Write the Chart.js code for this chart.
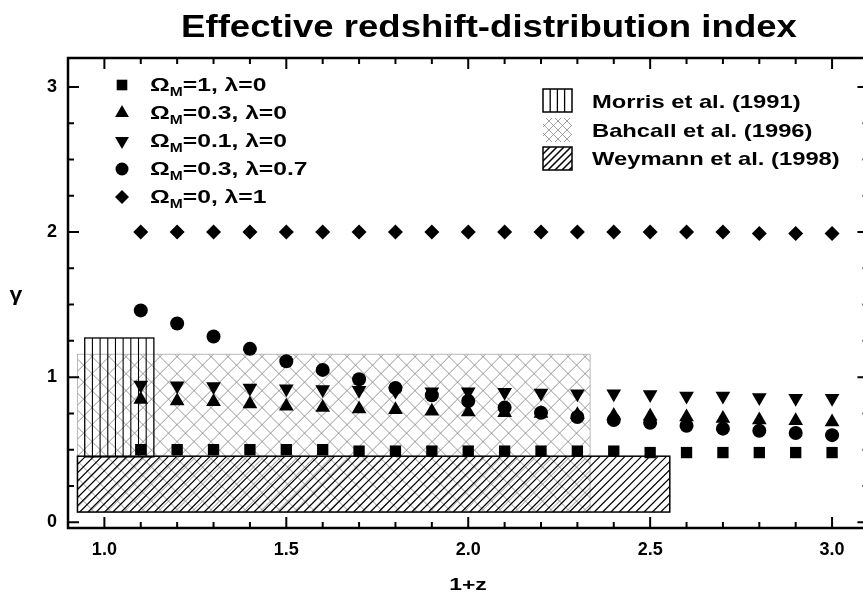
<!DOCTYPE html>
<html>
<head>
<meta charset="utf-8">
<script src="https://cdn.jsdelivr.net/npm/chart.js@4.4.0/dist/chart.umd.min.js"></script>
<style>
  html, body { margin: 0; padding: 0; background: #fff; overflow: hidden; }
  #wrap { width: 863px; height: 596px; overflow: hidden; }
  canvas { display: block; }
</style>
</head>
<body>
<div id="wrap"><canvas id="gammaChart" width="863" height="596"></canvas></div>
<script>
// 1+z sample points
var zValues = [1.1, 1.2, 1.3, 1.4, 1.5, 1.6, 1.7, 1.8, 1.9, 2.0,
               2.1, 2.2, 2.3, 2.4, 2.5, 2.6, 2.7, 2.8, 2.9, 3.0];

// gamma per cosmology
var gammaM1 = [0.50, 0.50, 0.50, 0.50, 0.50, 0.50, 0.49, 0.49, 0.49, 0.49,
               0.49, 0.49, 0.49, 0.49, 0.48, 0.48, 0.48, 0.48, 0.48, 0.48];
var gammaM03 = [0.845, 0.835, 0.83, 0.815, 0.80, 0.79, 0.78, 0.775, 0.765, 0.76,
                0.755, 0.75, 0.74, 0.735, 0.73, 0.725, 0.715, 0.705, 0.70, 0.69];
var gammaM01 = [0.945, 0.94, 0.935, 0.925, 0.92, 0.915, 0.91, 0.905, 0.90, 0.90,
                0.895, 0.89, 0.885, 0.885, 0.88, 0.87, 0.87, 0.86, 0.855, 0.855];
var gammaM03L07 = [1.46, 1.37, 1.28, 1.195, 1.11, 1.05, 0.985, 0.925, 0.875, 0.835,
                   0.79, 0.755, 0.725, 0.705, 0.685, 0.665, 0.645, 0.63, 0.615, 0.60];
var gammaM0L1 = [2.0, 2.0, 2.0, 2.0, 2.0, 2.0, 2.0, 2.0, 2.0, 2.0,
                 2.0, 2.0, 2.0, 2.0, 2.0, 2.0, 2.0, 1.99, 1.99, 1.99];

var seriesText = ['=1, \u03bb=0', '=0.3, \u03bb=0', '=0.1, \u03bb=0', '=0.3, \u03bb=0.7', '=0, \u03bb=1'];

// survey boxes: [z from, z to], [gamma from, gamma to]
var surveyNames = ['Morris et al. (1991)', 'Bahcall et al. (1996)', 'Weymann et al. (1998)'];
var surveyZ = [[0.946, 1.136], [0.926, 2.335], [0.926, 2.554]];
var surveyGamma = [[0.45, 1.27], [0.07, 1.158], [0.07, 0.455]];

var xTicks = [1.0, 1.5, 2.0, 2.5, 3.0];
var yTicks = [0, 1, 2, 3];

function pts(arr) {
  return zValues.map(function(z, i) { return { x: z, y: arr[i] }; });
}

var FONT = '"Liberation Sans", Arial, Helvetica, sans-serif';

function txt(ctx, s, x, y, size, weight, align, sx) {
  ctx.save();
  ctx.font = weight + ' ' + size + 'px ' + FONT;
  ctx.textBaseline = 'alphabetic';
  ctx.textAlign = 'left';
  var w = ctx.measureText(s).width * sx;
  var x0 = align === 'center' ? x - w / 2 : (align === 'right' ? x - w : x);
  ctx.translate(x0, y);
  ctx.scale(sx, 1);
  ctx.fillStyle = '#000';
  ctx.fillText(s, 0, 0);
  ctx.restore();
  return w;
}

function hatch(ctx, b, step, dirs, color, lw) {
  ctx.save();
  ctx.beginPath();
  ctx.rect(b.l, b.t, b.r - b.l, b.b - b.t);
  ctx.clip();
  ctx.strokeStyle = color;
  ctx.lineWidth = lw;
  ctx.beginPath();
  var h = b.b - b.t, a;
  dirs.forEach(function(d) {
    if (d === 'v') {
      for (a = b.l + step; a < b.r - 1; a += step) { ctx.moveTo(a, b.t); ctx.lineTo(a, b.b); }
    } else if (d === '/') {
      for (a = b.l - h; a < b.r; a += step) { ctx.moveTo(a, b.b); ctx.lineTo(a + h, b.t); }
    } else {
      for (a = b.l - h; a < b.r; a += step) { ctx.moveTo(a, b.t); ctx.lineTo(a + h, b.b); }
    }
  });
  ctx.stroke();
  ctx.restore();
}

function frameBox(ctx, b, color, lw) {
  ctx.save();
  ctx.strokeStyle = color;
  ctx.lineWidth = lw;
  ctx.strokeRect(b.l, b.t, b.r - b.l, b.b - b.t);
  ctx.restore();
}

var markers = [
  { style: 'rect', radius: 8, rotation: 0 },
  { style: 'triangle', radius: 8.5, rotation: 0 },
  { style: 'triangle', radius: 8.5, rotation: 180 },
  { style: 'circle', radius: 7, rotation: 0 },
  { style: 'rectRot', radius: 7.5, rotation: 0 }
];

var drawPlugin = {
  id: 'gammaDecor',
  beforeDatasetsDraw: function(chart) {
    var ctx = chart.ctx, xs = chart.scales.x, ys = chart.scales.y;
    var boxes = surveyZ.map(function(zr, i) {
      return { l: xs.getPixelForValue(zr[0]), r: xs.getPixelForValue(zr[1]),
               t: ys.getPixelForValue(surveyGamma[i][1]), b: ys.getPixelForValue(surveyGamma[i][0]) };
    });
    // Bahcall: grey crosshatch
    hatch(ctx, boxes[1], 17, ['/', '\\'], '#858585', 0.85);
    frameBox(ctx, boxes[1], '#a8a8a8', 0.8);
    // Weymann: diagonal lines
    hatch(ctx, boxes[2], 8.3, ['/'], '#000', 1.2);
    frameBox(ctx, boxes[2], '#000', 1.5);
    // Morris: vertical lines
    hatch(ctx, boxes[0], (boxes[0].r - boxes[0].l) / 9, ['v'], '#000', 1.1);
    frameBox(ctx, boxes[0], '#000', 1.3);
  },
  afterDatasetsDraw: function(chart) {
    var ctx = chart.ctx, xs = chart.scales.x, ys = chart.scales.y, a = chart.chartArea;
    var k, p, len;
    // the right axis of the original sits at 1+z = 3.1, just past the crop
    var rightAxis = xs.getPixelForValue(3.1);
    ctx.save();
    ctx.strokeStyle = '#000';
    ctx.lineWidth = 2;
    ctx.beginPath();
    for (k = 10; k <= 30; k++) {
      p = xs.getPixelForValue(k / 10);
      len = (k % 5 === 0) ? 11 : 6;
      ctx.moveTo(p, a.bottom); ctx.lineTo(p, a.bottom - len);
      ctx.moveTo(p, a.top); ctx.lineTo(p, a.top + len);
    }
    for (k = 0; k <= 12; k++) {
      p = ys.getPixelForValue(k / 4);
      len = (k % 4 === 0) ? 11 : 6;
      ctx.moveTo(a.left, p); ctx.lineTo(a.left + len, p);
      ctx.moveTo(rightAxis, p); ctx.lineTo(rightAxis - len, p);
    }
    ctx.stroke();
    ctx.lineWidth = 2.5;
    ctx.beginPath();
    ctx.moveTo(a.right, a.top); ctx.lineTo(a.left, a.top);
    ctx.lineTo(a.left, a.bottom); ctx.lineTo(a.right, a.bottom);
    ctx.stroke();
    ctx.restore();

    // cosmology legend
    var helpers = Chart.helpers;
    for (k = 0; k < markers.length; k++) {
      var cy = 85 + k * 28;
      ctx.save();
      ctx.fillStyle = '#000';
      helpers.drawPoint(ctx, { pointStyle: markers[k].style, radius: markers[k].radius - 0.5,
                               rotation: markers[k].rotation, borderWidth: 0 }, 122, cy);
      ctx.restore();
      var w1 = txt(ctx, '\u03a9', 150, cy + 6, 18, 'bold', 'left', 1.37);
      var w2 = txt(ctx, 'M', 150 + w1, cy + 11, 12, 'bold', 'left', 1.3);
      txt(ctx, seriesText[k], 150 + w1 + w2, cy + 6, 18, 'bold', 'left', 1.37);
    }

    // survey legend
    var sw = [
      { l: 543, r: 572, t: 89, b: 112 },
      { l: 543, r: 572, t: 118, b: 142 },
      { l: 543, r: 572, t: 147, b: 170 }
    ];
    hatch(ctx, sw[0], 7.2, ['v'], '#000', 1.3);
    frameBox(ctx, sw[0], '#000', 1.5);
    hatch(ctx, sw[1], 9, ['/', '\\'], '#8a8a8a', 0.8);
    hatch(ctx, sw[2], 7, ['/'], '#000', 1.5);
    frameBox(ctx, sw[2], '#000', 1.5);
    var base = [108, 137, 165];
    for (k = 0; k < surveyNames.length; k++) {
      txt(ctx, surveyNames[k], 592, base[k], 19, 'bold', 'left', 1.25);
    }

    // titles
    txt(ctx, 'Effective redshift-distribution index', 489, 37, 31, 'bold', 'center', 1.18);
    txt(ctx, '1+z', 468, 590, 17, 'bold', 'center', 1.35);
    txt(ctx, '\u03b3', 16, 301, 21, 'bold', 'center', 1.1);
  }
};

var tickFont = { family: FONT, weight: 'bold', size: 18 };

new Chart(document.getElementById('gammaChart').getContext('2d'), {
  type: 'scatter',
  data: {
    datasets: [
      { data: pts(gammaM1), pointStyle: 'rect', pointRadius: 8, backgroundColor: '#000', borderColor: '#000', borderWidth: 0 },
      { data: pts(gammaM03), pointStyle: 'triangle', pointRadius: 8.5, backgroundColor: '#000', borderColor: '#000', borderWidth: 0 },
      { data: pts(gammaM01), pointStyle: 'triangle', pointRotation: 180, pointRadius: 8.5, backgroundColor: '#000', borderColor: '#000', borderWidth: 0 },
      { data: pts(gammaM03L07), pointStyle: 'circle', pointRadius: 7, backgroundColor: '#000', borderColor: '#000', borderWidth: 0 },
      { data: pts(gammaM0L1), pointStyle: 'rectRot', pointRadius: 7.5, backgroundColor: '#000', borderColor: '#000', borderWidth: 0 }
    ]
  },
  options: {
    responsive: false,
    animation: false,
    layout: { autoPadding: false, padding: { top: 58, right: 0, left: 0, bottom: 0 } },
    plugins: { legend: { display: false }, tooltip: { enabled: false } },
    scales: {
      x: {
        type: 'linear', min: 0.9, max: 3.085,
        grid: { display: false, drawTicks: false },
        border: { display: false },
        afterFit: function(s) { s.height = 68; s.paddingLeft = 0; s.paddingRight = 0; },
        afterBuildTicks: function(s) { s.ticks = xTicks.map(function(v) { return { value: v }; }); },
        ticks: { font: tickFont, color: '#000', padding: 11, maxRotation: 0, autoSkip: false,
                 callback: function(v) { return Number(v).toFixed(1); } }
      },
      y: {
        type: 'linear', min: -0.04, max: 3.2,
        grid: { display: false, drawTicks: false },
        border: { display: false },
        afterFit: function(s) { s.width = 68; s.paddingTop = 0; s.paddingBottom = 0; },
        afterBuildTicks: function(s) { s.ticks = yTicks.map(function(v) { return { value: v }; }); },
        ticks: { font: tickFont, color: '#000', padding: 11, autoSkip: false,
                 callback: function(v) { return String(v); } }
      }
    }
  },
  plugins: [drawPlugin]
});
</script>
</body>
</html>
